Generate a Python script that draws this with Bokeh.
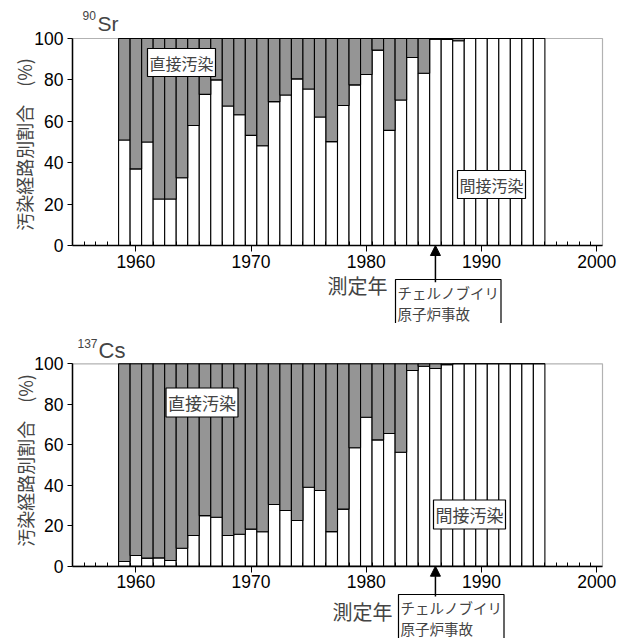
import math
from bokeh.plotting import figure
from bokeh.layouts import column
from bokeh.models import (ColumnDataSource, FixedTicker, Label, Arrow, NormalHead, Range1d,
                          BoxAnnotation, LinearAxis)
from bokeh.embed import file_html
from bokeh.resources import INLINE

years = list(range(1959, 1996))
sr_indirect = [51, 37, 50, 22.5, 22.5, 32.7, 58, 73, 80, 67.4, 63.2, 53.2, 48.2, 69.5, 72.7,
               80.5, 75.6, 62.1, 50.2, 67.6, 77.6, 82.6, 94.4, 55.6, 70.3, 90.8, 83.2, 99.7,
               99.5, 98.9, 100, 100, 100, 100, 100, 100, 100]
cs_indirect = [2.3, 5.3, 4.0, 4.1, 2.8, 8.9, 15.2, 25.0, 24.2, 15.2, 15.8, 18.3, 17.0, 30.5,
               27.5, 22.6, 39.0, 37.4, 17.1, 28.2, 58.5, 73.6, 62.4, 65.6, 56.3, 96.7, 98.8,
               97.7, 99.5, 100, 100, 100, 100, 100, 100, 100, 100]
x_ticks = [1960, 1970, 1980, 1990, 2000]
y_ticks = [0, 20, 40, 60, 80, 100]
minor_x = [1955.5, 1956.5, 1957.5] + [y + 0.5 for y in years] + [1996.5, 1997.5, 1998.5, 1999.5]

ylabel = "汚染経路別割合　(%)"
direct_label = "直接汚染"
indirect_label = "間接汚染"
xlabel = "測定年"
event_label = "チェルノブイリ\n原子炉事故"
event_year = 1986

X0, X1 = 1954.5, 2000.5
GRAY = "#959595"
NUM_FONT = "Liberation Sans"
JP_FONT = "Noto Sans CJK JP"

# page-pixel layout of the plot boxes (left edge, right edge, top=100, bottom=0)
FRAME_L, FRAME_R = 72, 602
PX_PER_YEAR = (FRAME_R - FRAME_L) / (X1 - X0)
PAGE_W = 619
CANVAS_X = 0


def make_fig(vals, sup, elem, fig_top, height, y100, y0, pos):
    k = (y0 - y100) / 100.0  # px per percent

    def dx(px):
        return X0 + (px - FRAME_L) / PX_PER_YEAR

    def dy(py):
        return 100 - (py - y100) / k

    p = figure(width=PAGE_W, height=height, output_backend="svg", toolbar_location=None,
               x_range=Range1d(dx(CANVAS_X), dx(CANVAS_X + PAGE_W)),
               y_range=Range1d(dy(fig_top + height), dy(fig_top)),
               min_border_left=0, min_border_right=0, min_border_top=0, min_border_bottom=0,
               x_axis_location=None, y_axis_location=None)
    p.grid.visible = False
    p.background_fill_color = "white"
    p.border_fill_color = "white"
    p.outline_line_color = None
    src = ColumnDataSource(dict(year=years, ind=vals))
    p.vbar(x="year", width=1, bottom=0, top="ind", source=src, fill_color="white",
           line_color="black", line_width=1.1)
    p.vbar(x="year", width=1, bottom="ind", top=100, source=src, fill_color=GRAY,
           line_color="black", line_width=1.1)
    p.add_layout(BoxAnnotation(left=X0, right=X1, bottom=0, top=100, fill_alpha=0,
                               line_color="black", line_width=1.2, level="overlay"))

    xa = LinearAxis(fixed_location=0, bounds=(X0, X1))
    p.add_layout(xa, "below")
    xa.ticker = FixedTicker(ticks=x_ticks, minor_ticks=minor_x)
    xa.major_tick_in = 0
    xa.major_tick_out = 6
    xa.minor_tick_in = 4
    xa.minor_tick_out = 0
    xa.major_label_standoff = 3
    ya = LinearAxis(fixed_location=X0, bounds=(0, 100))
    p.add_layout(ya, "left")
    ya.ticker = FixedTicker(ticks=y_ticks)
    ya.major_tick_in = 0
    ya.major_tick_out = 5
    ya.major_label_standoff = 4
    for a in (xa, ya):
        a.axis_line_color = "black"
        a.axis_line_width = 1.5
        a.major_tick_line_color = "black"
        a.major_label_text_font = NUM_FONT
        a.major_label_text_font_size = "17.5px"
        a.major_label_text_color = "black"
    xa.minor_tick_line_color = "black"
    ya.minor_tick_line_color = None

    p.add_layout(Label(x=dx(pos["ylab"][0]), y=dy(pos["ylab"][1]), text=ylabel, angle=math.pi / 2,
                       text_font=JP_FONT, text_font_size="18px", text_align="center",
                       text_baseline="middle"))
    p.add_layout(Label(x=dx(pos["sup"][0]), y=dy(pos["sup"][1]), text=sup, text_font=NUM_FONT,
                       text_font_size="12px", text_baseline="middle", text_align="left"))
    p.add_layout(Label(x=dx(pos["elem"][0]), y=dy(pos["elem"][1]), text=elem, text_font=NUM_FONT,
                       text_font_size=pos["elem_size"], text_baseline="middle", text_align="left"))
    for key, txt in (("direct", direct_label), ("indirect", indirect_label)):
        p.add_layout(Label(x=dx(pos[key][0]), y=dy(pos[key][1]), text=txt, text_font=JP_FONT,
                           text_font_size=pos["box_size"], text_align="center",
                           text_baseline="middle", background_fill_color="white",
                           border_line_color="black", border_line_width=1.2, padding=2))
    p.add_layout(Label(x=dx(pos["xlab"][0]), y=dy(pos["xlab"][1]), text=xlabel, text_font=JP_FONT,
                       text_font_size="20px", text_align="right", text_baseline="middle"))
    p.add_layout(Label(x=dx(pos["event"][0]), y=dy(pos["event"][1]), text=event_label,
                       text_font=JP_FONT, text_font_size="14.5px", text_align="left",
                       text_baseline="top", text_line_height=1.0,
                       background_fill_color="white", border_line_color="black",
                       border_line_width=1.2, padding=2))
    p.add_layout(Arrow(x_start=event_year, y_start=dy(pos["arrow"]), x_end=event_year, y_end=0,
                       line_color="black", line_width=1.5,
                       end=NormalHead(size=10, fill_color="black", line_color="black")))
    return p


# label positions, in page pixels
pos_sr = dict(ylab=(23, 144), sup=(82, 15), elem=(97, 22.5), elem_size="21px",
              box_size="16px", direct=(181, 62), indirect=(491, 184),
              xlab=(387, 285), event=(395, 279), arrow=281.7)
pos_cs = dict(ylab=(24, 460), sup=(77, 342.5), elem=(98, 350), elem_size="22px",
              box_size="17px", direct=(201.5, 402), indirect=(469, 514),
              xlab=(392, 611), event=(398, 594), arrow=596)

p1 = make_fig(sr_indirect, "90", "Sr", 0, 323, 38, 245, pos_sr)
p2 = make_fig(cs_indirect, "137", "Cs", 323, 315, 363.3, 565.7, pos_cs)

layout = column(p1, p2, spacing=0)
open("out.html", "w").write(file_html(layout, INLINE))
